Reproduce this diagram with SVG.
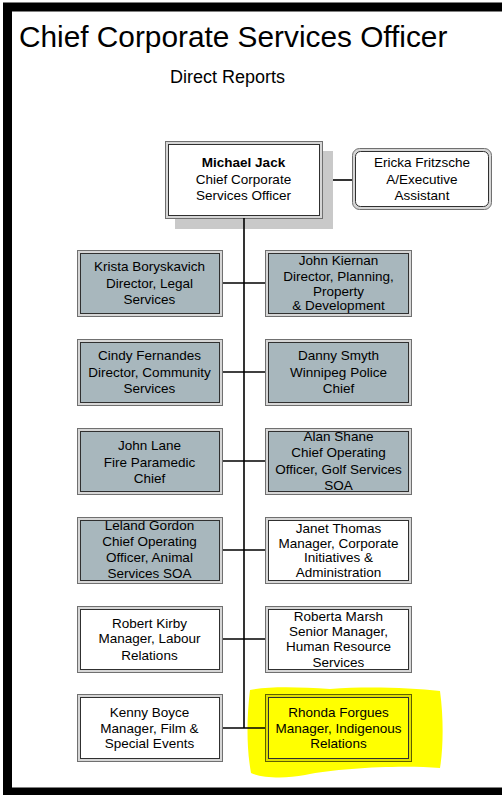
<svg xmlns="http://www.w3.org/2000/svg" width="502" height="795" viewBox="0 0 502 795">
<style>
text{font-family:"Liberation Sans",Arial,sans-serif;fill:#000}
.t{font-size:13.5px;text-anchor:middle}
.o{fill:#d6d6d6;stroke:#707070;stroke-width:1}
.ig{fill:#a8b7bd;stroke:#303030;stroke-width:1}
.iw{fill:#fff;stroke:#303030;stroke-width:1}
.iy{fill:#ffff00;stroke:#303030;stroke-width:1}
.c{stroke:#000;stroke-width:1.6;fill:none}
</style>
<rect width="502" height="795" fill="#fff"/>
<rect x="7.5" y="7" width="600" height="785" fill="none" stroke="#000" stroke-width="9"/>
<text x="19" y="47" font-size="29.8">Chief Corporate Services Officer</text>
<text x="227.5" y="83" font-size="18" text-anchor="middle">Direct Reports</text>
<path d="M250,690 C270,686 300,687 330,689 C370,686 410,688 440,691 C444,720 443,750 440,768 C400,765 340,768 305,775 C285,779 262,778 251,773 C246,745 247,715 250,690 Z" fill="#ffff00"/>
<g id="connectors">
<line class="c" x1="244" y1="218" x2="244" y2="728"/>
<line class="c" x1="322" y1="180" x2="352" y2="180"/>
<line class="c" x1="222" y1="283" x2="265" y2="283"/>
<line class="c" x1="222" y1="372" x2="265" y2="372"/>
<line class="c" x1="222" y1="461" x2="265" y2="461"/>
<line class="c" x1="222" y1="550" x2="265" y2="550"/>
<line class="c" x1="222" y1="639" x2="265" y2="639"/>
<line class="c" x1="222" y1="728" x2="265" y2="728"/>
</g>
<g id="michael">
<rect x="175" y="151" width="158" height="78" fill="#c9c9c9"/>
<rect class="o" x="165.5" y="141.5" width="157" height="77"/>
<rect class="iw" x="168.5" y="144.5" width="151" height="71"/>
<line class="c" x1="244" y1="218" x2="244" y2="229"/>
<text class="t" x="243.5" y="167" font-weight="bold">Michael Jack</text>
<text class="t" x="243.5" y="183.5">Chief Corporate</text>
<text class="t" x="243.5" y="200">Services Officer</text>
</g>
<g id="ericka">
<rect class="o" x="352.5" y="148.5" width="139" height="61" rx="7"/>
<rect class="iw" x="355.5" y="151.5" width="133" height="55" rx="5"/>
<text class="t" x="422" y="167">Ericka Fritzsche</text>
<text class="t" x="422" y="183.5">A/Executive</text>
<text class="t" x="422" y="200">Assistant</text>
</g>
<g id="krista">
<rect class="o" x="77.5" y="250.5" width="145" height="66"/>
<rect class="ig" x="80.5" y="253.5" width="139" height="60"/>
<text class="t" x="149.5" y="271">Krista Boryskavich</text>
<text class="t" x="149.5" y="288">Director, Legal</text>
<text class="t" x="149.5" y="304">Services</text>
</g>
<g id="kiernan">
<rect class="o" x="265.5" y="250.5" width="146" height="66"/>
<rect class="ig" x="268.5" y="253.5" width="140" height="60"/>
<text class="t" x="338.5" y="265">John Kiernan</text>
<text class="t" x="338.5" y="281">Director, Planning,</text>
<text class="t" x="338.5" y="296">Property</text>
<text class="t" x="338.5" y="310">&amp; Development</text>
</g>
<g id="cindy">
<rect class="o" x="77.5" y="339.5" width="145" height="66"/>
<rect class="ig" x="80.5" y="342.5" width="139" height="60"/>
<text class="t" x="149.5" y="360">Cindy Fernandes</text>
<text class="t" x="149.5" y="377">Director, Community</text>
<text class="t" x="149.5" y="393">Services</text>
</g>
<g id="danny">
<rect class="o" x="265.5" y="339.5" width="146" height="66"/>
<rect class="ig" x="268.5" y="342.5" width="140" height="60"/>
<text class="t" x="338.5" y="360">Danny Smyth</text>
<text class="t" x="338.5" y="377">Winnipeg Police</text>
<text class="t" x="338.5" y="393">Chief</text>
</g>
<g id="lane">
<rect class="o" x="77.5" y="428.5" width="145" height="66"/>
<rect class="ig" x="80.5" y="431.5" width="139" height="60"/>
<text class="t" x="149.5" y="450">John Lane</text>
<text class="t" x="149.5" y="467">Fire Paramedic</text>
<text class="t" x="149.5" y="483">Chief</text>
</g>
<g id="shane">
<rect class="o" x="265.5" y="428.5" width="146" height="66"/>
<rect class="ig" x="268.5" y="431.5" width="140" height="60"/>
<text class="t" x="338.5" y="441">Alan Shane</text>
<text class="t" x="338.5" y="457">Chief Operating</text>
<text class="t" x="338.5" y="474">Officer, Golf Services</text>
<text class="t" x="338.5" y="490">SOA</text>
</g>
<g id="gordon">
<rect class="o" x="77.5" y="517.5" width="145" height="66"/>
<rect class="ig" x="80.5" y="520.5" width="139" height="60"/>
<text class="t" x="149.5" y="530">Leland Gordon</text>
<text class="t" x="149.5" y="546">Chief Operating</text>
<text class="t" x="149.5" y="562">Officer, Animal</text>
<text class="t" x="149.5" y="578">Services SOA</text>
</g>
<g id="thomas">
<rect class="o" x="265.5" y="517.5" width="146" height="66"/>
<rect class="iw" x="268.5" y="520.5" width="140" height="60"/>
<text class="t" x="338.5" y="533">Janet Thomas</text>
<text class="t" x="338.5" y="548">Manager, Corporate</text>
<text class="t" x="338.5" y="562">Initiatives &amp;</text>
<text class="t" x="338.5" y="577">Administration</text>
</g>
<g id="kirby">
<rect class="o" x="77.5" y="606.5" width="145" height="66"/>
<rect class="iw" x="80.5" y="609.5" width="139" height="60"/>
<text class="t" x="149.5" y="628">Robert Kirby</text>
<text class="t" x="149.5" y="643">Manager, Labour</text>
<text class="t" x="149.5" y="660">Relations</text>
</g>
<g id="marsh">
<rect class="o" x="265.5" y="606.5" width="146" height="66"/>
<rect class="iw" x="268.5" y="609.5" width="140" height="60"/>
<text class="t" x="338.5" y="621">Roberta Marsh</text>
<text class="t" x="338.5" y="636">Senior Manager,</text>
<text class="t" x="338.5" y="651">Human Resource</text>
<text class="t" x="338.5" y="667">Services</text>
</g>
<g id="boyce">
<rect class="o" x="77.5" y="694.5" width="145" height="67"/>
<rect class="iw" x="80.5" y="697.5" width="139" height="61"/>
<text class="t" x="149.5" y="717">Kenny Boyce</text>
<text class="t" x="149.5" y="733">Manager, Film &amp;</text>
<text class="t" x="149.5" y="748">Special Events</text>
</g>
<g id="forgues">
<rect x="265.5" y="694.5" width="146" height="67" fill="#e0e000" stroke="#606000" stroke-width="1"/>
<rect class="iy" x="268.5" y="697.5" width="140" height="61"/>
<text class="t" x="338.5" y="717">Rhonda Forgues</text>
<text class="t" x="338.5" y="733">Manager, Indigenous</text>
<text class="t" x="338.5" y="748">Relations</text>
</g>
</svg>
